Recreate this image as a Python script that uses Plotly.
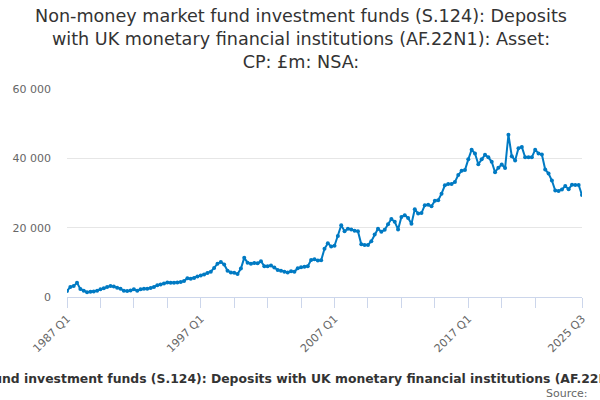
import plotly.graph_objects as go

# ---------------- data (quarterly, £m)

quarters = [f"{y} Q{q}" for y in range(1987, 2026) for q in range(1, 5)][:155]

deposits = [
    1700, 2900, 3200, 4100, 2300, 1800, 1400, 1500, 1600, 1800,
    2200, 2500, 2900, 3200, 3000, 2700, 2400, 1800, 1700, 1900,
    2200, 1800, 2200, 2400, 2400, 2600, 2900, 3400, 3600, 3900,
    4200, 4100, 4100, 4200, 4300, 4600, 5400, 5300, 5500, 5900,
    6200, 6500, 6900, 7300, 8400, 9600, 10100, 9400, 7600, 7100,
    7000, 6600, 8200, 11300, 9900, 9600, 9800, 9700, 10300, 8900,
    8900, 9100, 8500, 7800, 7600, 7300, 7100, 7400, 7300, 8300,
    8600, 8700, 8900, 10700, 10900, 10500, 10600, 13900, 15500, 14600,
    14800, 17600, 20700, 19000, 19700, 19500, 19100, 19000, 15200, 15000,
    15000, 16100, 18000, 19700, 18800, 19400, 21000, 22500, 21700, 19500,
    23100, 23600, 22800, 21100, 25300, 24100, 24200, 26500, 26600, 26200,
    27800, 27900, 29800, 32200, 32600, 32600, 33200, 35200, 36400, 36600,
    39700, 42500, 41400, 38300, 39700, 41000, 40300, 39000, 36000, 37300,
    38200, 37200, 46800, 40600, 39400, 42900, 43300, 40300, 40300, 40300,
    42500, 41400, 41100, 36800, 35600, 33600, 30700, 30600, 31000, 32000,
    31100, 32400, 32300, 32300, 29400,
]

tick_idx = list(range(0, 150, 10)) + [154]
tick_vals = [quarters[i] for i in tick_idx]
tick_text = [quarters[i] if (i % 40 == 0 or i == 154) else "" for i in tick_idx]

title = ("Non-money market fund investment funds (S.124): Deposits<br>"
         "with UK monetary financial institutions (AF.22N1): Asset:<br>"
         "CP: £m: NSA:")
series_name = ("Non-money market fund investment funds (S.124): Deposits with UK "
               "monetary financial institutions (AF.22N1): Asset: CP: £m: NSA:")

# ---------------- figure

fig = go.Figure()

fig.add_trace(go.Scatter(
    x=quarters,
    y=deposits,
    mode="lines+markers",
    line=dict(color="#007ac3", width=2),
    marker=dict(color="#007ac3", size=4),
    name=series_name,
))

fig.update_layout(
    width=600, height=400,
    margin=dict(l=65, r=18, t=89, b=103),
    paper_bgcolor="white", plot_bgcolor="white",
    font=dict(family="DejaVu Sans", color="#666666", size=11),
    separators=". ",
    showlegend=False,
    xaxis=dict(
        type="category", range=[0, 154],
        tickmode="array", tickvals=tick_vals, ticktext=tick_text,
        tickangle=-45, ticks="outside", ticklen=10, tickcolor="#ccd6eb",
        showline=True, linecolor="#ccd6eb", showgrid=False,
    ),
    yaxis=dict(
        range=[0, 60000], tickvals=[0, 20000, 40000, 60000], tickformat=",d",
        showgrid=True, gridcolor="#e6e6e6", zeroline=False, ticks="",
        ticklabelstandoff=15,
    ),
)

# title as annotation so the three lines sit where they should
# (plot centre is at 323.5 px, page centre at 300 px)
fig.add_annotation(
    text=title, xref="paper", yref="paper",
    x=0.5, xshift=-23.5, y=1, yshift=15, xanchor="center", yanchor="bottom",
    showarrow=False, font=dict(size=17.6, color="#333333"),
)
fig.add_annotation(
    text=f"<b>{series_name}</b>", xref="paper", yref="paper",
    x=0.5, xshift=-13, y=-0.394, xanchor="center", yanchor="middle", showarrow=False,
    font=dict(size=12.4, color="#333333"),
)
fig.add_annotation(
    text="Source:", xref="paper", yref="paper",
    x=1.0, xshift=8, y=-0.462, xanchor="right", yanchor="middle", showarrow=False,
    font=dict(size=11, color="#666666"),
)

fig.write_html("out.html", config={"displayModeBar": False},
               post_script="document.body.style.margin='0';")
